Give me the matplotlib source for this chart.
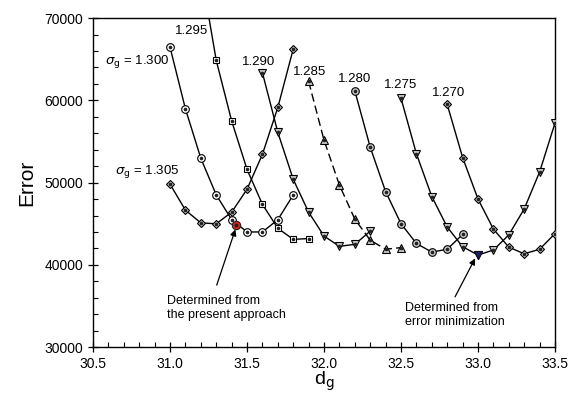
import matplotlib
matplotlib.use("Agg")
import matplotlib.pyplot as plt
from matplotlib.ticker import MultipleLocator

plt.rcParams['font.family'] = ['Liberation Sans', 'DejaVu Sans']
plt.rcParams['mathtext.fontset'] = 'dejavusans'

# curves: sigma_g -> (d_g, error)
d_1305 = [31.0, 31.1, 31.2, 31.3, 31.4, 31.5, 31.6, 31.7, 31.8]
e_1305 = [49800, 46650, 45100, 45000, 46400, 49200, 53450, 59150, 66250]

d_1300 = [31.0, 31.1, 31.2, 31.3, 31.4, 31.5, 31.6, 31.7, 31.8]
e_1300 = [66450, 58950, 52950, 48500, 45500, 44000, 44000, 45500, 48500]

d_1295 = [31.2, 31.3, 31.4, 31.5, 31.6, 31.7, 31.8, 31.9]
e_1295 = [75800, 64850, 57500, 51600, 47350, 44450, 43100, 43200]

d_1290 = [31.6, 31.7, 31.8, 31.9, 32.0, 32.1, 32.2, 32.3]
e_1290 = [63350, 56100, 50400, 46400, 43500, 42250, 42500, 44100]

d_1285 = [31.9, 32.0, 32.1, 32.2, 32.3, 32.4, 32.5]
e_1285 = [62300, 55150, 49700, 45550, 43000, 41900, 42100]

d_1280 = [32.2, 32.3, 32.4, 32.5, 32.6, 32.7, 32.8, 32.9]
e_1280 = [61150, 54300, 48900, 45000, 42600, 41550, 41900, 43700]

d_1275 = [32.5, 32.6, 32.7, 32.8, 32.9, 33.0, 33.1, 33.2, 33.3, 33.4, 33.5]
e_1275 = [60250, 53500, 48300, 44600, 42200, 41200, 41800, 43650, 46800, 51300, 57250]

d_1270 = [32.8, 32.9, 33.0, 33.1, 33.2, 33.3, 33.4, 33.5]
e_1270 = [59500, 53050, 48000, 44350, 42150, 41350, 41900, 43800]

# highlighted results
present_d, present_e = 31.43, 44830
minimize_d, minimize_e = 33.0, 41200

fig = plt.figure(figsize=(5.71, 3.94), dpi=100)
ax = fig.add_axes([0.163, 0.119, 0.809, 0.835])

gray = '#c8c8c8'
curves = [
    (d_1305, e_1305, 'D', gray, '-', 4.2),
    (d_1300, e_1300, 'o', 'white', '-', 5.5),
    (d_1295, e_1295, 's', 'white', '-', 4.6),
    (d_1290, e_1290, 'v', gray, '-', 5.5),
    (d_1285, e_1285, '^', gray, (0, (6, 3)), 5.5),
    (d_1280, e_1280, 'o', gray, '-', 5.5),
    (d_1275, e_1275, 'v', gray, '-', 5.5),
    (d_1270, e_1270, 'D', gray, '-', 4.2),
]
for d, e, m, fc, ls, ms in curves:
    ax.plot(d, e, color='black', lw=1.0, ls=ls, marker=m, ms=ms,
            mfc=fc, mec='black', mew=0.8, clip_on=True, zorder=3)
    ax.plot(d, e, ls='none', marker='o', ms=1.6, color='#222222', zorder=4)

ax.plot([present_d], [present_e], marker='o', ms=6, mfc='#e0201b', mec='#222222',
        mew=0.8, ls='none', zorder=5)
ax.plot([present_d], [present_e], marker='o', ms=1.8, color='#222222', ls='none', zorder=6)
ax.plot([minimize_d], [minimize_e], marker='v', ms=5.5, mfc='#1c1f6b', mec='#111111',
        mew=0.8, ls='none', zorder=5)

# curve labels
fs = 9.5
ax.text(31.247, 68420, '1.295', ha='right', va='center', fontsize=fs)
ax.text(30.995, 64770, r'$\sigma_{\mathrm{g}}$ = 1.300', ha='right', va='center', fontsize=fs)
ax.text(31.576, 64614, '1.290', ha='center', va='center', fontsize=fs)
ax.text(31.06, 51313, r'$\sigma_{\mathrm{g}}$ = 1.305', ha='right', va='center', fontsize=fs)
ax.text(31.909, 63471, '1.285', ha='center', va='center', fontsize=fs)
ax.text(32.201, 62584, '1.280', ha='center', va='center', fontsize=fs)
ax.text(32.494, 61854, '1.275', ha='center', va='center', fontsize=fs)
ax.text(32.812, 60881, '1.270', ha='center', va='center', fontsize=fs)

# annotations
arrow = dict(arrowstyle='-|>', color='black', lw=0.9, mutation_scale=9,
             shrinkA=0, shrinkB=0)
ax.annotate('', xy=(31.424, 44310), xytext=(31.303, 37537), arrowprops=arrow)
ax.text(30.979, 34742, 'Determined from\nthe present approach', ha='left',
        va='center', fontsize=9, linespacing=1.2)
ax.annotate('', xy=(32.981, 40784), xytext=(32.851, 36116), arrowprops=arrow)
ax.text(32.526, 33891, 'Determined from\nerror minimization', ha='left',
        va='center', fontsize=9, linespacing=1.2)

ax.set_xlim(30.5, 33.5)
ax.set_ylim(30000, 70000)
ax.xaxis.set_major_locator(MultipleLocator(0.5))
ax.xaxis.set_minor_locator(MultipleLocator(0.1))
ax.yaxis.set_major_locator(MultipleLocator(10000))
ax.yaxis.set_minor_locator(MultipleLocator(2000))
ax.xaxis.set_major_formatter(plt.FormatStrFormatter('%.1f'))
ax.tick_params(which='major', direction='inout', length=7, width=0.9, labelsize=10)
ax.tick_params(which='minor', direction='in', length=3.5, width=0.8)
for s in ax.spines.values():
    s.set_linewidth(1.0)

ax.set_xlabel(r'd$_\mathrm{g}$', fontsize=14, labelpad=-1)
ax.set_ylabel('Error', fontsize=15, labelpad=6)

fig.savefig('out.png', dpi=100)
